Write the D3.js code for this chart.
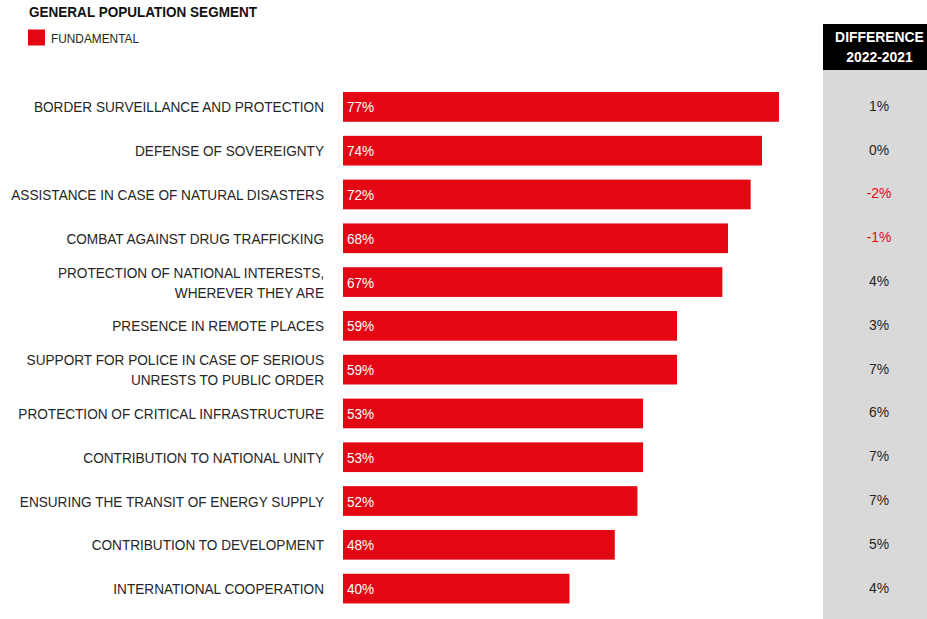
<!DOCTYPE html>
<html>
<head>
<meta charset="utf-8">
<script src="https://cdn.jsdelivr.net/npm/d3@7"></script>
<style>
  html, body { margin: 0; padding: 0; background: #fff; }
  svg { display: block; font-family: "Liberation Sans", Arial, sans-serif; }
</style>
</head>
<body>
<svg id="chart" width="927" height="619"></svg>
<script>
// Share of respondents rating each task as fundamental (2022)
const categories = [
  "BORDER SURVEILLANCE AND PROTECTION",
  "DEFENSE OF SOVEREIGNTY",
  "ASSISTANCE IN CASE OF NATURAL DISASTERS",
  "COMBAT AGAINST DRUG TRAFFICKING",
  "PROTECTION OF NATIONAL INTERESTS,\nWHEREVER THEY ARE",
  "PRESENCE IN REMOTE PLACES",
  "SUPPORT FOR POLICE IN CASE OF SERIOUS\nUNRESTS TO PUBLIC ORDER",
  "PROTECTION OF CRITICAL INFRASTRUCTURE",
  "CONTRIBUTION TO NATIONAL UNITY",
  "ENSURING THE TRANSIT OF ENERGY SUPPLY",
  "CONTRIBUTION TO DEVELOPMENT",
  "INTERNATIONAL COOPERATION"
];
const fundamental = [77, 74, 72, 68, 67, 59, 59, 53, 53, 52, 48, 40];
// Change in percentage points, 2022 vs 2021
const difference = [1, 0, -2, -1, 4, 3, 7, 6, 7, 7, 5, 4];

const titleText = "GENERAL POPULATION SEGMENT";
const legendLabel = "FUNDAMENTAL";
const diffHeader = ["DIFFERENCE", "2022-2021"];

const RED = "#e30613";
const TEXT = "#262626";
const NARROW = 0.972;       // slight horizontal condensing of the face
const LABEL_NARROW = 0.952; // category labels are set a little tighter

const svg = d3.select("#chart");

const x = d3.scaleLinear().domain([0, 100]).range([343, 343 + 566.2]);
const y = d3.scaleBand()
  .domain(categories)
  .range([85, 610.5])
  .paddingInner(0.322)
  .paddingOuter(0.161);

// Title and legend
svg.append("text")
  .attr("x", 29).attr("y", 17)
  .attr("font-size", 14.5).attr("font-weight", "bold")
  .attr("fill", "#111")
  .attr("textLength", 228).attr("lengthAdjust", "spacingAndGlyphs")
  .text(titleText);
svg.append("rect")
  .attr("x", 28).attr("y", 29.5).attr("width", 17).attr("height", 16)
  .attr("fill", RED);
svg.append("text")
  .attr("x", 51).attr("y", 42.5)
  .attr("font-size", 13).attr("fill", TEXT)
  .attr("textLength", 88).attr("lengthAdjust", "spacingAndGlyphs")
  .text(legendLabel);

// Difference column panel
svg.append("rect")
  .attr("x", 823).attr("y", 69).attr("width", 104).attr("height", 550)
  .attr("fill", "#d9d9d9");
svg.append("rect")
  .attr("x", 823).attr("y", 24).attr("width", 104).attr("height", 46)
  .attr("fill", "#000");
svg.selectAll("g.dh")
  .data(diffHeader)
  .join("g")
  .attr("class", "dh")
  .attr("transform", (d, i) => `translate(879.5,${41.5 + i * 20}) scale(${NARROW},1)`)
  .append("text")
  .attr("text-anchor", "middle")
  .attr("font-size", 14.3).attr("font-weight", "bold")
  .attr("fill", "#fff")
  .text(d => d);

// Bars
const rows = svg.append("g");
const row = rows.selectAll("g.row")
  .data(categories.map((c, i) => ({ c, v: fundamental[i], d: difference[i] })))
  .join("g")
  .attr("class", "row");

row.append("rect")
  .attr("x", x(0))
  .attr("y", d => y(d.c))
  .attr("width", d => x(d.v) - x(0))
  .attr("height", y.bandwidth())
  .attr("fill", RED);

row.append("text")
  .attr("x", x(0) + 4)
  .attr("y", d => y(d.c) + y.bandwidth() / 2 + 5.5)
  .attr("font-size", 14).attr("fill", "#fff")
  .attr("transform", `translate(${(x(0) + 4) * (1 - NARROW)},0) scale(${NARROW},1)`)
  .text(d => d.v + "%");

// Category labels, right-aligned, possibly two lines
row.each(function (d) {
  const lines = d.c.split("\n");
  const cy = y(d.c) + y.bandwidth() / 2;
  const t = d3.select(this).append("g")
    .attr("transform", `translate(324,${cy}) scale(${LABEL_NARROW},1)`)
    .append("text")
    .attr("text-anchor", "end")
    .attr("font-size", 14.3).attr("fill", TEXT);
  lines.forEach((ln, i) => {
    t.append("tspan")
      .attr("x", 0)
      .attr("y", 5.5 + (i - (lines.length - 1) / 2) * 20)
      .text(ln);
  });
});

// Difference values
row.append("g")
  .attr("transform", d => `translate(879,${y(d.c) + y.bandwidth() / 2 + 4}) scale(${NARROW},1)`)
  .append("text")
  .attr("text-anchor", "middle")
  .attr("font-size", 14.3)
  .attr("fill", d => d.d < 0 ? RED : TEXT)
  .text(d => d.d + "%");
</script>
</body>
</html>
